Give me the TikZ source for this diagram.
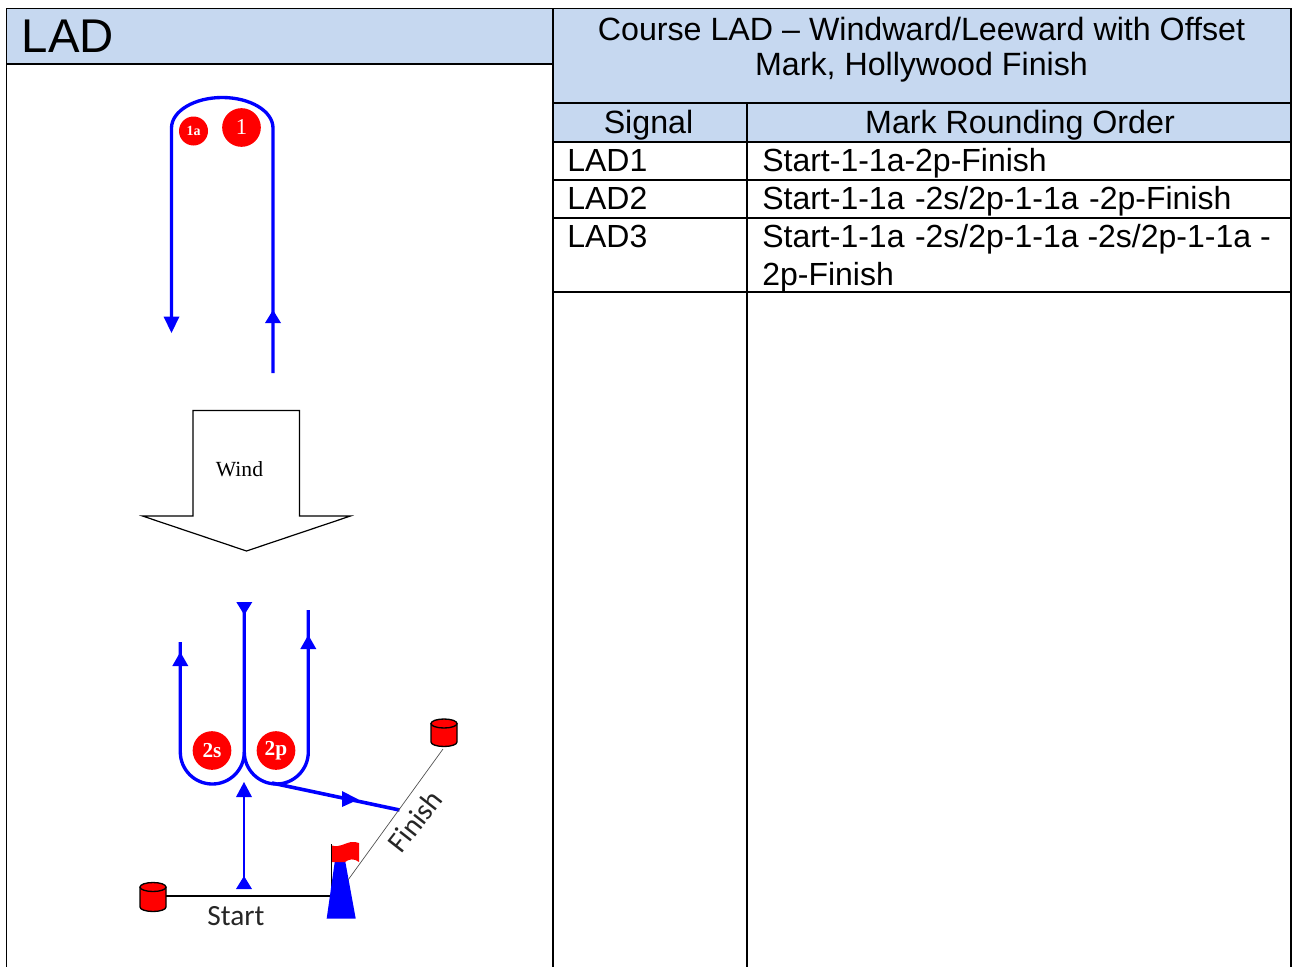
\documentclass[tikz,border=0pt]{standalone}
\usepackage{fontspec}
\setmainfont{Liberation Sans}
\newfontfamily\serifface{Liberation Serif}
\newfontfamily\calface{Carlito}
\definecolor{headblue}{HTML}{C6D8F0}
\definecolor{courseblue}{HTML}{0000FF}
\tikzset{
  x=0.75pt,y=-0.75pt,
  rule/.style={draw=black,line width=1.35pt},
  cell/.style={font=\fontsize{24}{28.5}\selectfont,inner sep=0pt,text=black},
  head/.style={cell,anchor=base,font=\fontsize{24.15}{28.5}\selectfont},
  rowtext/.style={cell,anchor=base west},
  course/.style={draw=courseblue,line width=2.5pt},
  tipmark/.style={fill=courseblue,draw=none},
  buoy/.style={circle,fill=red,draw=none,inner sep=0pt,text=white},
  can/.style={fill=red,draw=black,line width=1pt},
  thinline/.style={draw=black,line width=0.5pt},
  label/.style={font=\calface\fontsize{22}{24}\selectfont,inner sep=0pt,text=black!85},
}
\newcommand{\uptri}[3]{\fill[tipmark] (#1-8,#3) -- (#1,#2) -- (#1+8,#3) -- cycle;}
\newcommand{\dntri}[3]{\fill[tipmark] (#1-8,#2) -- (#1,#3) -- (#1+8,#2) -- cycle;}
\newcommand{\drawcan}[3]{%
  \draw[can] (#1-13,#2) -- (#1-13,#3) arc[x radius=13,y radius=4.5,start angle=180,end angle=0] -- (#1+13,#2);
  \draw[can] (#1,#2) ellipse[x radius=13,y radius=4.5];
}
\begin{document}
\begin{tikzpicture}
\useasboundingbox (0,0) rectangle (1292,967);
% header fills
\fill[headblue] (6.5,8.5) rectangle (553,64);
\fill[headblue] (553,8.5) rectangle (1291,142);
% rules
\draw[rule] (6.5,967) -- (6.5,8.5) -- (1291,8.5) -- (1291,967);
\draw[rule] (553,8.5) -- (553,967);
\draw[rule] (747,103) -- (747,967);
\draw[rule] (6.5,64) -- (553,64);
\draw[rule] (553,103) -- (1291,103);
\draw[rule] (553,142) -- (1291,142);
\draw[rule] (553,180) -- (1291,180);
\draw[rule] (553,218) -- (1291,218);
\draw[rule] (553,292) -- (1291,292);
% text
\node[cell,anchor=base west,font=\fontsize{35.5}{40}\selectfont] (title) at (21.5,52.5) {LAD};
\node[head] (c1) at (921.5,40) {Course LAD – Windward/Leeward with Offset};
\node[head] (c2) at (921.5,75) {Mark, Hollywood Finish};
\node[head] (h1) at (648.5,133) {Signal};
\node[head] (h2) at (1020,133) {Mark Rounding Order};
\node[rowtext] (r1a) at (567,171) {LAD1};
\node[rowtext] (r1b) at (762,171) {Start-1-1a-2p-Finish};
\node[rowtext] (r2a) at (567,209) {LAD2};
\node[rowtext] (r2b) at (762,209) {Start-1-1a\hspace{0.05em} -2s/2p-1-1a\hspace{0.05em} -2p-Finish};
\node[rowtext] (r3a) at (567,247) {LAD3};
\node[rowtext] (r3b) at (762,247) {Start-1-1a\hspace{0.05em} -2s/2p-1-1a -2s/2p-1-1a -};
\node[rowtext] (r3c) at (762,285) {2p-Finish};
% upper marks
\node[buoy,minimum size=21.75pt,font=\serifface\bfseries\fontsize{10.5}{11}\selectfont] (m1a) at (193.5,131) {1a};
\node[buoy,minimum size=29pt,font=\serifface\fontsize{17}{17}\selectfont] (m1) at (241.5,127.5) {1\hspace{4.5pt}};
% upper course
\coordinate (ua) at (171.5,320);
\coordinate (uc) at (273,128);
\coordinate (ud) at (273,373);
\draw[course] (ud) -- (uc) arc[start angle=0,end angle=-180,x radius=50.75,y radius=30.5] -- (ua);
\dntri{171.5}{316.5}{333}
\uptri{273}{310}{323}
% wind arrow
\draw[thinline,line width=0.9pt] (193,516) -- (193,410.5) -- (299.5,410.5) -- (299.5,516) -- (350.5,516) -- (246.5,551) -- (142.5,516) -- cycle;
\node[font=\serifface\fontsize{16.2}{18}\selectfont,inner sep=0pt] (wind) at (239.5,469) {Wind};
% lower marks
\node[buoy,minimum size=29pt,font=\serifface\bfseries\fontsize{16}{16}\selectfont] (m2s) at (212,750.5) {2s};
\node[buoy,minimum size=29pt,font=\serifface\bfseries\fontsize{16}{16}\selectfont] (m2p) at (276,750.5) {2p};
% lower course
\coordinate (la) at (180.3,642);
\coordinate (lb) at (244.3,604);
\coordinate (lc) at (308.3,610);
\coordinate (lg) at (272,783);
\coordinate (ld) at (399.5,810);
\coordinate (le) at (244,795);
\coordinate (lf) at (244,880);
\draw[course] (la) -- (180.3,752) arc[start angle=180,end angle=0,radius=32] -- (lb);
\draw[course] (244.3,752) arc[start angle=180,end angle=0,radius=32] -- (lc);
\draw[course,line width=2.7pt] (lg) -- (ld);
\draw[course,line width=1.9pt] (le) -- (lf);
\dntri{244.3}{602}{615}
\uptri{308.3}{635}{649}
\uptri{180.3}{652}{666}
\uptri{244}{782}{797}
\uptri{244}{876}{889}
\fill[tipmark] (342,791) -- (358.5,799.5) -- (342,807) -- cycle;
% start line, pin end
\coordinate (sl) at (166,896);
\coordinate (sr) at (331.5,896);
\coordinate (sf) at (331.5,844);
\draw[black,line width=1.3pt] (sl) -- (sr) -- (sf);
\node[label] (start) at (236,916) {Start};
% committee boat / flag
\fill[courseblue] (326.7,918.5) -- (335,860) -- (345,860) -- (355.7,918.5) -- cycle;
\fill[red] (332,845.5) .. controls (339,848) and (345,843) .. (351,842) .. controls (354,842) and (357,842) .. (359,843) -- (359,862) .. controls (354,858) and (349,859) .. (345,862) -- (332,862) -- cycle;
% finish line
\coordinate (fa) at (348,880);
\coordinate (fb) at (443,749);
\draw[thinline,draw=black!70] (fa) -- (fb);
\node[label,rotate=52] (finish) at (415,821) {Finish};
% cans
\drawcan{153}{887}{907}
\drawcan{444}{723.5}{742}
\end{tikzpicture}
\end{document}
